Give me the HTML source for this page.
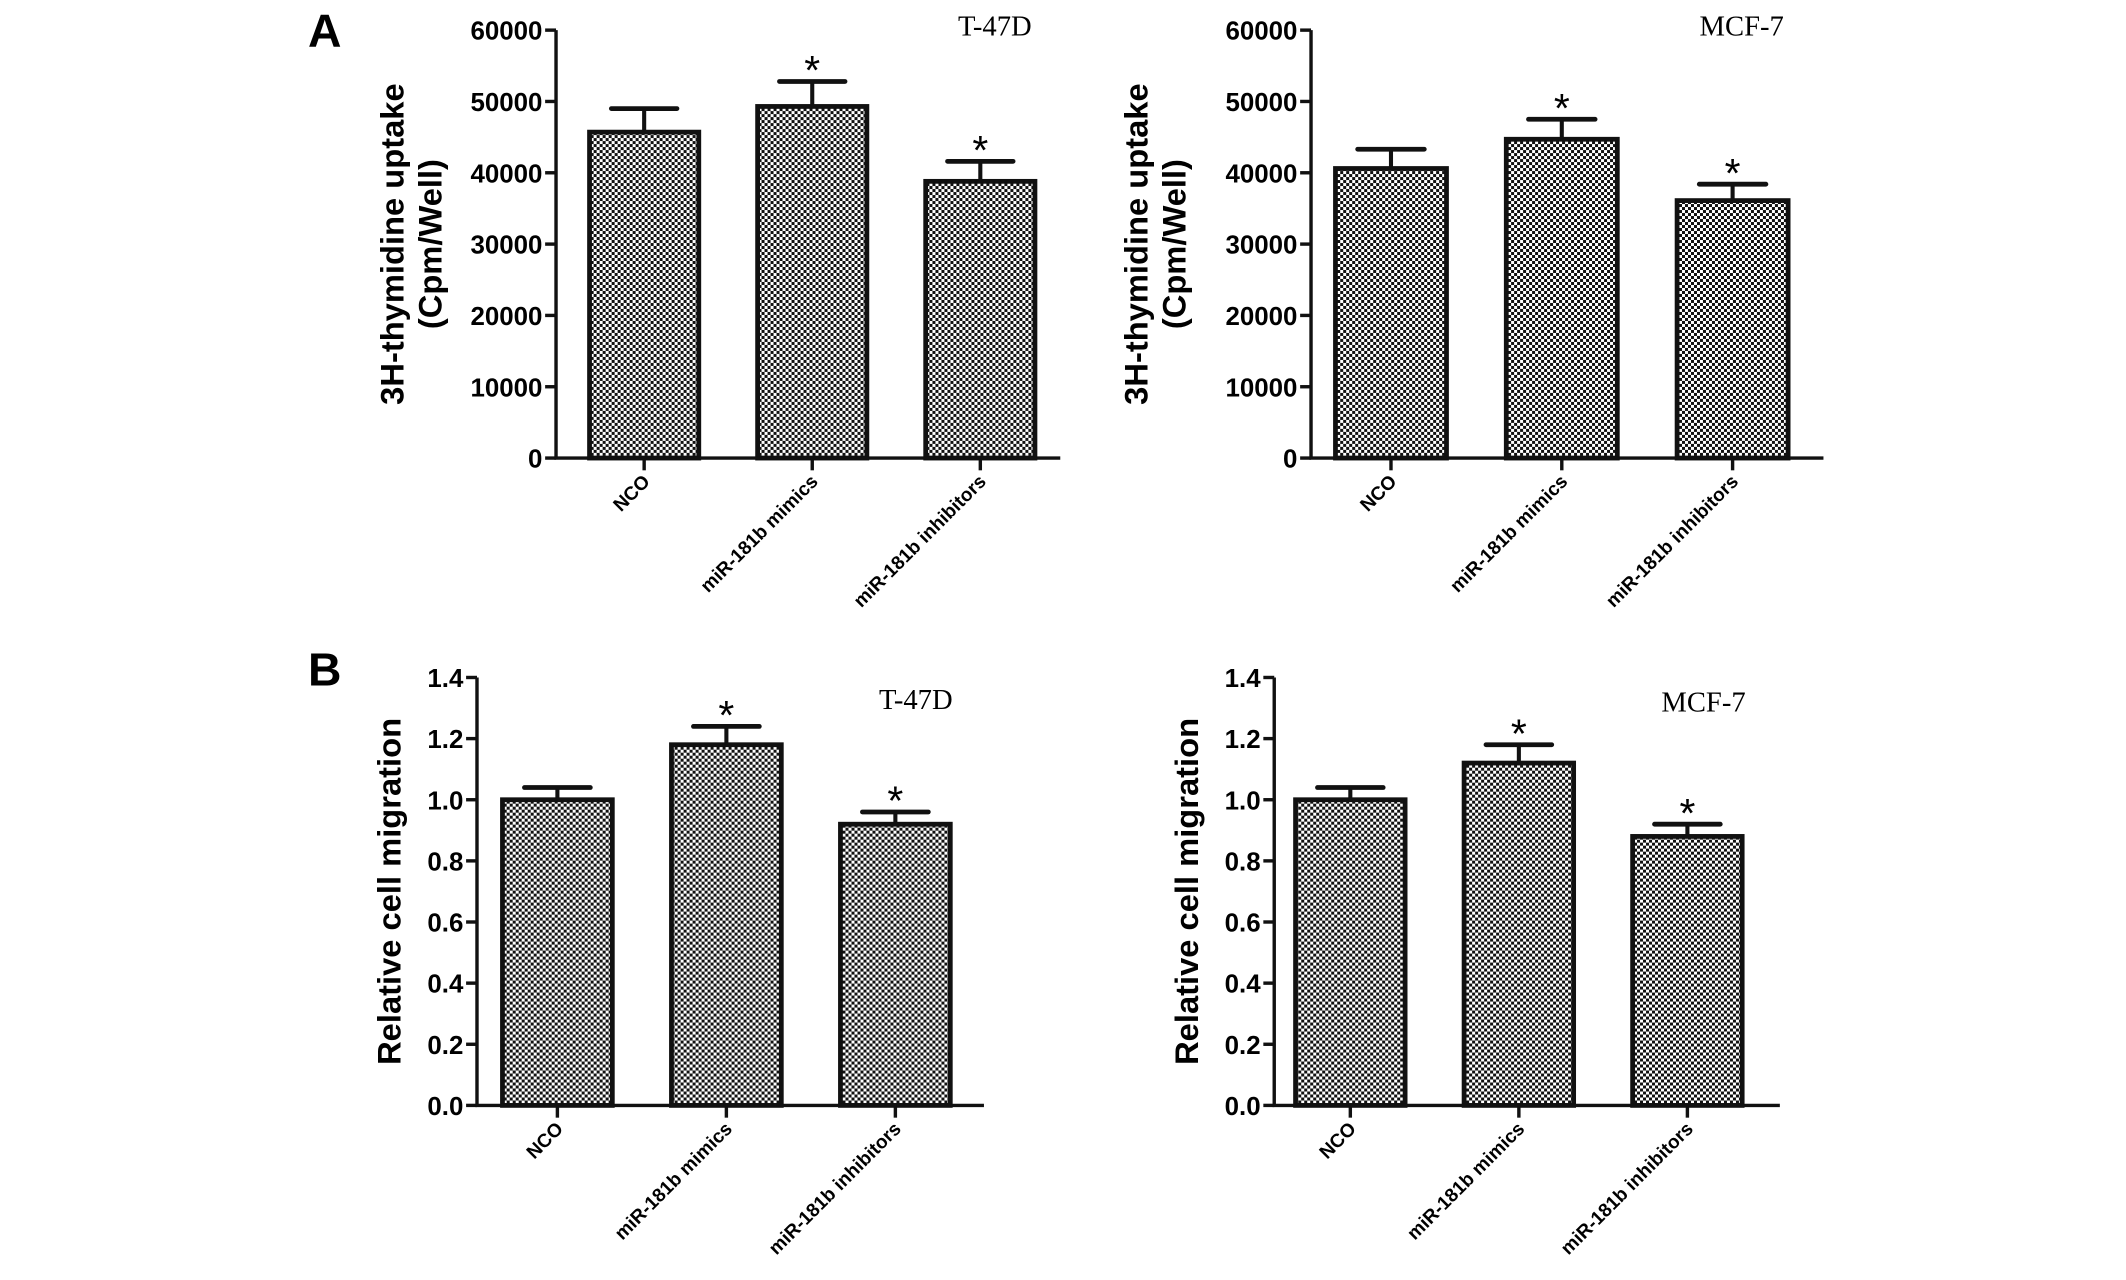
<!DOCTYPE html>
<html><head><meta charset="utf-8"><style>
html,body{margin:0;padding:0;background:#fff;}
svg{display:block;}
text{font-family:"Liberation Sans",Arial,sans-serif;}
.tk{font-weight:bold;font-size:19px;}
.xl{font-weight:bold;font-size:14px;}
.yt{font-weight:bold;font-size:24px;}
.ttl{font-family:"Liberation Serif",serif;font-size:21px;}
</style></head><body>
<svg id="fig" width="2126" height="1280" viewBox="0 0 1560 939" xmlns="http://www.w3.org/2000/svg">
<defs>
<pattern id="chk" width="4.4" height="4.4" patternUnits="userSpaceOnUse">
<rect width="4.4" height="4.4" fill="#fff"/>
<rect width="2.2" height="2.2" fill="#111"/>
<rect x="2.2" y="2.2" width="2.2" height="2.2" fill="#111"/>
</pattern>
</defs>
<text x="226" y="34" font-size="34" font-weight="bold">A</text>
<text x="226" y="503" font-size="34" font-weight="bold">B</text>
</svg>
<script>
const categories = ["NCO", "miR-181b mimics", "miR-181b inhibitors"];
const a1Values = [45700, 49300, 38800];
const a1Errors = [3300, 3500, 2800];
const a2Values = [40600, 44700, 36100];
const a2Errors = [2700, 2800, 2300];
const b1Values = [1.00, 1.18, 0.92];
const b1Errors = [0.04, 0.06, 0.04];
const b2Values = [1.00, 1.12, 0.88];
const b2Errors = [0.04, 0.06, 0.04];
const significant = [false, true, true];
const ticksA = [0, 10000, 20000, 30000, 40000, 50000, 60000];
const ticksB = ["0.0", "0.2", "0.4", "0.6", "0.8", "1.0", "1.2", "1.4"];

const svg = document.getElementById('fig');
const NS = "http://www.w3.org/2000/svg";
function mk(tag, attrs, parent) {
  const e = document.createElementNS(NS, tag);
  for (const k in attrs) e.setAttribute(k, attrs[k]);
  (parent || svg).appendChild(e);
  return e;
}

function chart(cfg) {
  const g = mk('g', {});
  
  
  const yS = v => cfg.y0 - (v - cfg.min) / (cfg.max - cfg.min) * (cfg.y0 - cfg.yTop);
  const band = (cfg.xEnd - cfg.x0) / categories.length;
  const bw = band * 0.65;
  const xC = i => cfg.x0 + band * (i + 0.5) + cfg.shift;
  cfg.ticks.forEach(t => {
    const v = parseFloat(t);
    const y = yS(v);
    mk('line', {x1: cfg.x0 - 8, x2: cfg.x0, y1: y, y2: y, stroke: '#111', 'stroke-width': 2.5}, g);
    const tx = mk('text', {x: cfg.x0 - 10, y: y + 7, 'text-anchor': 'end', class: 'tk'}, g);
    tx.textContent = t;
    
    
  });
  cfg.values.forEach((v, i) => {
    const cx = xC(i), top = yS(v), et = yS(v + cfg.errors[i]);
    mk('line', {x1: cx, x2: cx, y1: top, y2: et, stroke: '#111', 'stroke-width': 3}, g);
    mk('line', {x1: cx - bw * 0.3, x2: cx + bw * 0.3, y1: et, y2: et, stroke: '#111', 'stroke-width': 3.5, 'stroke-linecap': 'round'}, g);
    const r = mk('rect', {x: cx - bw / 2, y: top, width: bw, height: cfg.y0 - top, fill: 'url(#chk)', stroke: '#111', 'stroke-width': 3.5}, g);
    
    
    if (significant[i]) {
      const s = mk('text', {x: cx, y: et + 2, 'text-anchor': 'middle', 'font-size': 30, 'font-family': 'Liberation Serif, serif'}, g);
      s.textContent = '*';
      
      
    }
    mk('line', {x1: cx, x2: cx, y1: cfg.y0, y2: cfg.y0 + 9, stroke: '#111', 'stroke-width': 2.5}, g);
    const l = mk('text', {x: 0, y: 0, 'text-anchor': 'end', class: 'xl', transform: `translate(${cx + 5},${cfg.y0 + 18}) rotate(-45)`}, g);
    l.textContent = categories[i];
    
    
  });
  const ax = mk('path', {d: `M${cfg.x0},${cfg.yTop} V${cfg.y0} H${cfg.xEnd}`, fill: 'none', stroke: '#111', 'stroke-width': 2.5}, g);
  
  
  const t = mk('text', {x: cfg.titleX, y: cfg.titleY, class: 'ttl', 'text-anchor': 'middle'}, g);
  t.textContent = cfg.title;
  
  
  const yc = (cfg.y0 + cfg.yTop) / 2;
  cfg.ytitle.forEach((line, k) => {
    const x = cfg.ytX + k * 28;
    const yt = mk('text', {x: 0, y: 0, class: 'yt', 'text-anchor': 'middle', transform: `translate(${x},${yc}) rotate(-90)`}, g);
    yt.textContent = line;
    
    
  });
}

chart({name: 'chart-a-t47d', x0: 408, xEnd: 778, y0: 336, yTop: 22, min: 0, max: 60000, shift: 3, values: a1Values, errors: a1Errors, ticks: ticksA.map(String), title: 'T-47D', titleX: 730, titleY: 26, ytitle: ['3H-thymidine uptake', '(Cpm/Well)'], ytX: 296});
chart({name: 'chart-a-mcf7', x0: 962, xEnd: 1338, y0: 336, yTop: 22, min: 0, max: 60000, shift: -4, values: a2Values, errors: a2Errors, ticks: ticksA.map(String), title: 'MCF-7', titleX: 1278, titleY: 26, ytitle: ['3H-thymidine uptake', '(Cpm/Well)'], ytX: 842});
chart({name: 'chart-b-t47d', x0: 350, xEnd: 722, y0: 811, yTop: 497, min: 0, max: 1.4, shift: -3, values: b1Values, errors: b1Errors, ticks: ticksB, title: 'T-47D', titleX: 672, titleY: 520, ytitle: ['Relative cell migration'], ytX: 294});
chart({name: 'chart-b-mcf7', x0: 935, xEnd: 1306, y0: 811, yTop: 497, min: 0, max: 1.4, shift: -6, values: b2Values, errors: b2Errors, ticks: ticksB, title: 'MCF-7', titleX: 1250, titleY: 522, ytitle: ['Relative cell migration'], ytX: 879});
</script>
</body></html>
